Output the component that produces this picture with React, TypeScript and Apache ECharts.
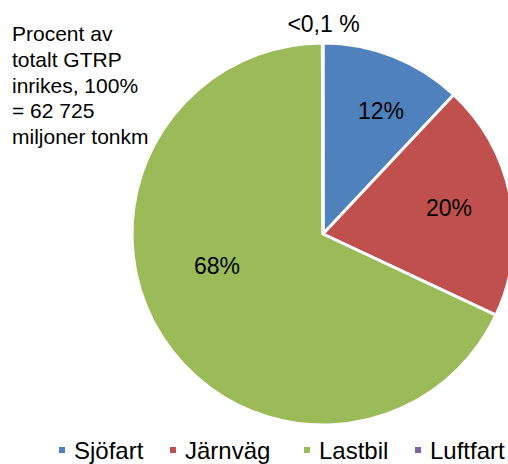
import React, { useEffect, useRef } from "react";
import * as echarts from "echarts";

const categories = ["Sjöfart", "Järnväg", "Lastbil", "Luftfart"];
const values = [12, 20, 68, 0.05];
const labelTexts = ["12%", "20%", "68%", "<0,1 %"];
const colors = ["#4F81BD", "#C0504D", "#9BBB59", "#8064A2"];
const noteLines = [
  "Procent av",
  "totalt GTRP",
  "inrikes, 100%",
  "= 62 725",
  "miljoner tonkm",
];

const FONT = "Arial, 'Liberation Sans', sans-serif";

export default function App() {
  const ref = useRef<HTMLDivElement>(null);

  useEffect(() => {
    if (!ref.current) return;
    const chart = echarts.init(ref.current, undefined, { renderer: "svg" });

    const labelPos = [
      [381, 111],
      [449, 208],
      [217, 266],
      [323.5, 24],
    ];
    const legendLeft = [57, 168, 302, 413];

    chart.setOption({
      animation: false,
      backgroundColor: "#ffffff",
      color: colors,
      legend: categories.map((c, i) => ({
        data: [c],
        left: legendLeft[i],
        top: 438,
        padding: 0,
        icon: "rect",
        itemWidth: 8,
        itemHeight: 8,
        selectedMode: false,
        textStyle: {
          fontSize: 24,
          fontFamily: FONT,
          color: "#000",
          padding: [0, 0, 0, 3],
        },
      })),
      series: [
        {
          type: "pie",
          center: [323, 234],
          radius: 191,
          startAngle: 90,
          clockwise: true,
          avoidLabelOverlap: false,
          label: { show: false },
          labelLine: { show: false },
          emphasis: { disabled: true },
          itemStyle: { borderColor: "#ffffff", borderWidth: 3 },
          data: categories.map((c, i) => ({
            name: c,
            value: values[i],
            itemStyle: { color: colors[i] },
          })),
        },
      ],
      graphic: [
        ...labelTexts.map((t, i) => ({
          type: "text",
          x: labelPos[i][0],
          y: labelPos[i][1],
          style: {
            text: t,
            fontSize: 23,
            fontFamily: FONT,
            fill: "#000",
            align: "center",
            verticalAlign: "middle",
          },
          z: 10,
        })),
        {
          type: "text",
          x: 12,
          y: 21,
          style: {
            text: noteLines.join("\n"),
            fontSize: 21,
            lineHeight: 25.7,
            fontFamily: FONT,
            fill: "#000",
            align: "left",
            verticalAlign: "top",
          },
          z: 10,
        },
      ],
    });

    return () => chart.dispose();
  }, []);

  return (
    <div
      ref={ref}
      style={{ position: "fixed", left: 0, top: 0, width: 508, height: 464 }}
    />
  );
}
